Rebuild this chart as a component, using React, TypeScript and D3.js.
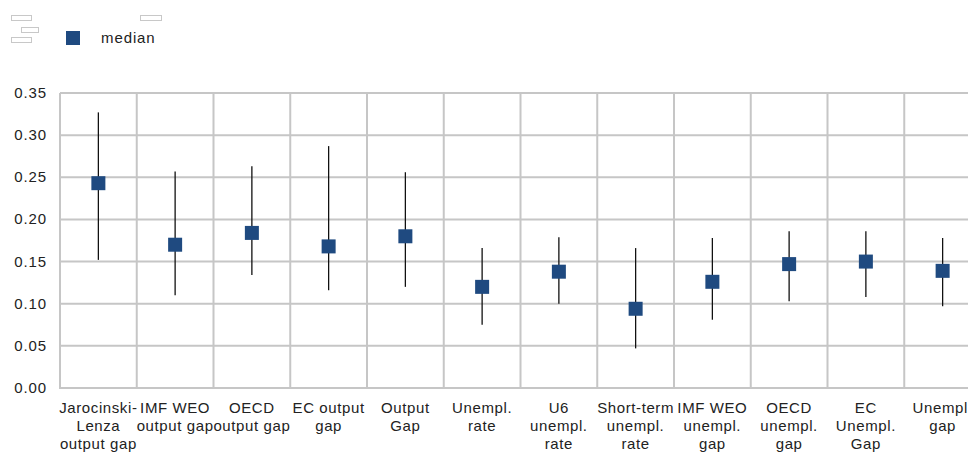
import React from "react";
import * as d3 from "d3";

const categories: string[][] = [
  ["Jarocinski-", "Lenza", "output gap"],
  ["IMF WEO", "output gap"],
  ["OECD", "output gap"],
  ["EC output", "gap"],
  ["Output", "Gap"],
  ["Unempl.", "rate"],
  ["U6", "unempl.", "rate"],
  ["Short-term", "unempl.", "rate"],
  ["IMF WEO", "unempl.", "gap"],
  ["OECD", "unempl.", "gap"],
  ["EC", "Unempl.", "Gap"],
  ["Unempl.", "gap"],
];
const medianValues = [0.243, 0.170, 0.184, 0.168, 0.180, 0.120, 0.138, 0.094, 0.126, 0.147, 0.150, 0.139];
const highValues = [0.327, 0.257, 0.263, 0.287, 0.256, 0.166, 0.179, 0.166, 0.178, 0.186, 0.186, 0.178];
const lowValues = [0.152, 0.110, 0.134, 0.116, 0.120, 0.075, 0.100, 0.047, 0.081, 0.103, 0.108, 0.097];
const yTicks = [0, 0.05, 0.1, 0.15, 0.2, 0.25, 0.3, 0.35];

export default function App() {
  const W = 968, H = 453;
  const left = 60, right = 981, top = 93, bottom = 388;
  const x = d3.scaleBand<number>().domain(d3.range(categories.length)).range([left, right]);
  const y = d3.scaleLinear().domain([0, 0.35]).range([bottom, top]);
  const grid = "#c6c6c6";
  const font = "'Liberation Sans', Arial, sans-serif";
  const col = "#1f4a80";
  const fs = 15;
  const ls = 0.6;
  return (
    <svg width={W} height={H} style={{ position: "absolute", left: 0, top: 0, background: "#fff" }} fontFamily={font}>
      <g fill="none" stroke="#c8c8c8" strokeWidth={1}>
        <rect x={11.5} y={15.5} width={20} height={5} />
        <rect x={21.5} y={27.5} width={17} height={5} />
        <rect x={11.5} y={37.5} width={20} height={5} />
        <rect x={140.5} y={15.5} width={21} height={5} />
      </g>
      <rect x={66} y={31} width={14} height={14} fill={col} />
      <text x={101} y={43} fontSize={fs} letterSpacing={ls + 0.3} fill="#222">median</text>
      {yTicks.map((t) => (
        <line key={"h" + t} x1={left} x2={W} y1={y(t)} y2={y(t)} stroke={grid} strokeWidth={2} />
      ))}
      {d3.range(categories.length + 1).map((i) => {
        const xx = i < categories.length ? x(i)! : right;
        return <line key={"v" + i} x1={xx} x2={xx} y1={top} y2={bottom + 1} stroke={grid} strokeWidth={2} />;
      })}
      {yTicks.map((t) => (
        <text key={"t" + t} x={47} y={y(t) + 5} fontSize={fs} letterSpacing={ls + 0.3} textAnchor="end" fill="#222">
          {t.toFixed(2)}
        </text>
      ))}
      {categories.map((lines, i) => {
        const cx = x(i)! + x.bandwidth() / 2;
        return (
          <g key={"c" + i}>
            <line x1={cx} x2={cx} y1={y(highValues[i])} y2={y(lowValues[i])} stroke="#111" strokeWidth={1.3} />
            <rect x={cx - 7} y={y(medianValues[i]) - 7} width={14} height={14} fill={col} />
            {lines.map((l, j) => (
              <text key={j} x={cx} y={413 + j * 18} fontSize={fs} letterSpacing={ls} textAnchor="middle" fill="#222">
                {l}
              </text>
            ))}
          </g>
        );
      })}
    </svg>
  );
}
